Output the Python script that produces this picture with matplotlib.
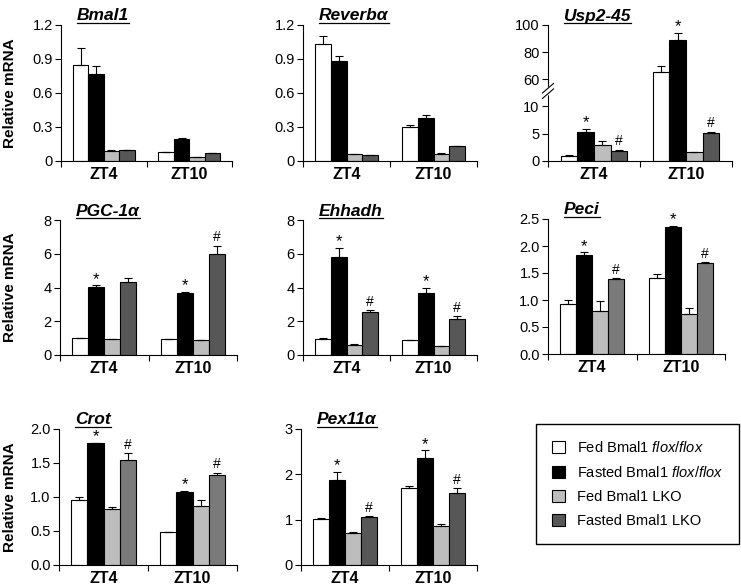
import matplotlib
matplotlib.use('Agg')
import matplotlib.pyplot as plt
import numpy as np
from matplotlib.patches import Patch
from matplotlib.lines import Line2D

plt.rcParams['font.family'] = ['Liberation Sans', 'DejaVu Sans']
plt.rcParams['mathtext.fontset'] = 'custom'
plt.rcParams['mathtext.it'] = 'Liberation Sans:italic'
plt.rcParams['mathtext.rm'] = 'Liberation Sans'

groups = ['Fed Bmal1 $\\it{flox/flox}$', 'Fasted Bmal1 $\\it{flox/flox}$',
          'Fed Bmal1 LKO', 'Fasted Bmal1 LKO']
times = ['ZT4', 'ZT10']

# values per gene: [ZT4 x 4 groups, ZT10 x 4 groups]
bmal1 = [0.85, 0.768, 0.09, 0.097, 0.078, 0.196, 0.035, 0.068]
bmal1_err = [0.146, 0.067, 0.004, 0.004, 0.003, 0.005, 0.004, 0.003]
reverba = [1.036, 0.883, 0.062, 0.053, 0.30, 0.381, 0.065, 0.132]
reverba_err = [0.064, 0.041, 0.004, 0.004, 0.02, 0.027, 0.003, 0.002]
usp2 = [0.9, 5.2, 3.0, 1.9, 65.7, 89.3, 1.6, 5.1]
usp2_err = [0.2, 0.7, 0.6, 0.15, 3.8, 4.7, 0.1, 0.2]
pgc1a = [1.0, 4.04, 0.93, 4.33, 0.97, 3.68, 0.89, 6.01]
pgc1a_err = [0.0, 0.08, 0.0, 0.24, 0.0, 0.08, 0.0, 0.47]
ehhadh = [0.96, 5.81, 0.61, 2.54, 0.86, 3.68, 0.51, 2.15]
ehhadh_err = [0.03, 0.53, 0.03, 0.1, 0.03, 0.29, 0.02, 0.14]
peci = [0.93, 1.83, 0.80, 1.38, 1.40, 2.36, 0.75, 1.69]
peci_err = [0.076, 0.05, 0.19, 0.02, 0.09, 0.01, 0.10, 0.01]
crot = [0.956, 1.79, 0.83, 1.54, 0.478, 1.08, 0.87, 1.33]
crot_err = [0.049, 0.01, 0.02, 0.105, 0.005, 0.005, 0.08, 0.03]
pex11a = [1.02, 1.87, 0.71, 1.06, 1.69, 2.35, 0.855, 1.58]
pex11a_err = [0.01, 0.19, 0.01, 0.01, 0.06, 0.18, 0.045, 0.11]

# significance marks: (time index, group index, symbol)
usp2_sig = [(0, 1, '*'), (0, 3, '#'), (1, 1, '*'), (1, 3, '#')]
pgc1a_sig = [(0, 1, '*'), (1, 1, '*'), (1, 3, '#')]
full_sig = [(0, 1, '*'), (0, 3, '#'), (1, 1, '*'), (1, 3, '#')]

panels = [
    ('Bmal1', bmal1, bmal1_err, [], [0, 0.3, 0.6, 0.9, 1.2], ['0', '0.3', '0.6', '0.9', '1.2'], '#575757'),
    ('Reverbα', reverba, reverba_err, [], [0, 0.3, 0.6, 0.9, 1.2], ['0', '0.3', '0.6', '0.9', '1.2'], '#575757'),
    ('Usp2-45', usp2, usp2_err, usp2_sig, [0, 5, 10, 60, 80, 100], ['0', '5', '10', '60', '80', '100'], '#575757'),
    ('PGC-1α', pgc1a, pgc1a_err, pgc1a_sig, [0, 2, 4, 6, 8], ['0', '2', '4', '6', '8'], '#575757'),
    ('Ehhadh', ehhadh, ehhadh_err, full_sig, [0, 2, 4, 6, 8], ['0', '2', '4', '6', '8'], '#575757'),
    ('Peci', peci, peci_err, full_sig, [0, 0.5, 1.0, 1.5, 2.0, 2.5], ['0.0', '0.5', '1.0', '1.5', '2.0', '2.5'], '#7a7a7a'),
    ('Crot', crot, crot_err, full_sig, [0, 0.5, 1.0, 1.5, 2.0], ['0.0', '0.5', '1.0', '1.5', '2.0'], '#7a7a7a'),
    ('Pex11α', pex11a, pex11a_err, full_sig, [0, 1, 2, 3], ['0', '1', '2', '3'], '#575757'),
]

W, H = 741, 586
# axes rectangles in pixels: left, right, top, bottom
rects_px = [
    (61, 232, 25, 161), (303, 477, 25, 161), (548, 732, 25, 161),
    (60, 237, 220, 355), (303, 477, 220, 355), (548, 725, 219, 354),
    (59, 237, 429, 565), (301, 477, 429, 565),
]


def usp_fwd(v):
    v = np.asarray(v, float)
    return np.where(v <= 10, v, np.where(v >= 60, 14.88 + (v - 60) * 0.247, 10 + (v - 10) * 0.0976))


def usp_inv(m):
    m = np.asarray(m, float)
    return np.where(m <= 10, m, np.where(m >= 14.88, 60 + (m - 14.88) / 0.247, 10 + (m - 10) / 0.0976))


fig = plt.figure(figsize=(W / 100, H / 100), dpi=100)

titles = []
bw = 0.18
for i, (name, vals, errs, sig, yt, ytl, dark) in enumerate(panels):
    l, r, t, b = rects_px[i]
    ax = fig.add_axes([l / W, 1 - b / H, (r - l) / W, (b - t) / H])
    colors = ['white', 'black', '#bdbdbd', dark]
    vals = np.array(vals).reshape(2, 4)
    errs = np.array(errs).reshape(2, 4)
    if name == 'Usp2-45':
        ax.set_yscale('function', functions=(usp_fwd, usp_inv))
    for g in range(4):
        x = np.arange(2) + (g - 1.5) * bw
        ax.bar(x, vals[:, g], width=bw, color=colors[g], edgecolor='black', linewidth=0.8, zorder=2)
        ax.errorbar(x, vals[:, g], yerr=[np.zeros(2), errs[:, g]], fmt='none', ecolor='black',
                    elinewidth=0.8, capsize=3, capthick=0.8, zorder=3)
    for (ti, gi, s) in sig:
        x = ti + (gi - 1.5) * bw
        top = vals[ti, gi] + errs[ti, gi]
        ax.annotate(s, (x, top), xytext=(0, 1 if s == '#' else -1), textcoords='offset points',
                    ha='center', va='bottom', fontsize=10 if s == '#' else 12)
    ax.set_xlim(-0.5, 1.5)
    ax.set_ylim(yt[0], yt[-1])
    ax.set_yticks(yt)
    ax.set_yticklabels(ytl, fontsize=10.5)
    ax.set_xticks([-0.5, 0.5, 1.5])
    ax.set_xticklabels([])
    ax.set_xticks([0, 1], minor=True)
    ax.set_xticklabels(times, minor=True, fontsize=11.5, fontweight='bold')
    ax.tick_params(axis='x', which='major', direction='out', length=4, width=0.8)
    ax.tick_params(axis='x', which='minor', length=0, pad=4)
    ax.tick_params(axis='y', direction='out', length=4, width=0.8, pad=2)
    ax.spines['top'].set_visible(False)
    ax.spines['right'].set_visible(False)
    ax.spines['left'].set_linewidth(0.8)
    ax.spines['bottom'].set_linewidth(0.8)
    if name == 'Usp2-45':
        tr = ax.transAxes
        ax.plot([-0.02, 0.02], [0.48, 0.54], transform=tr, color='white', lw=4, clip_on=False, zorder=5)
        for dy in (-0.02, 0.02):
            ax.plot([-0.03, 0.03], [0.48 + dy, 0.55 + dy], transform=tr, color='black', lw=0.8,
                    clip_on=False, zorder=6)
    ttl = fig.text((l + 16) / W, 1 - (t - 9) / H, name, ha='left', va='center',
                   fontsize=12.5, fontweight='bold', fontstyle='italic')
    titles.append(ttl)
    if l < 100:
        fig.text(10 / W, 1 - ((t + b) / 2) / H, 'Relative mRNA', rotation=90, ha='center',
                 va='center', fontsize=11, fontweight='bold')

# underline the gene titles
fig.canvas.draw()
renderer = fig.canvas.get_renderer()
inv = fig.transFigure.inverted()
for ttl in titles:
    bb = ttl.get_window_extent(renderer)
    (x0, y0), (x1, _) = inv.transform([(bb.x0, bb.y0 + 1), (bb.x1, bb.y0)])
    fig.add_artist(Line2D([x0, x1], [y0, y0], transform=fig.transFigure, color='black', lw=0.9))

handles = [Patch(facecolor=c, edgecolor='black', linewidth=0.8)
           for c in ['white', 'black', '#bdbdbd', '#575757']]
fig.legend(handles, groups, loc='upper left', bbox_to_anchor=(536 / W, 1 - 424 / H),
           borderaxespad=0, frameon=True, fancybox=False, edgecolor='black', framealpha=1,
           fontsize=10.5, handlelength=0.9, handleheight=0.9, handletextpad=0.8,
           labelspacing=0.68, borderpad=1.1)

fig.savefig('out.png', dpi=100)
